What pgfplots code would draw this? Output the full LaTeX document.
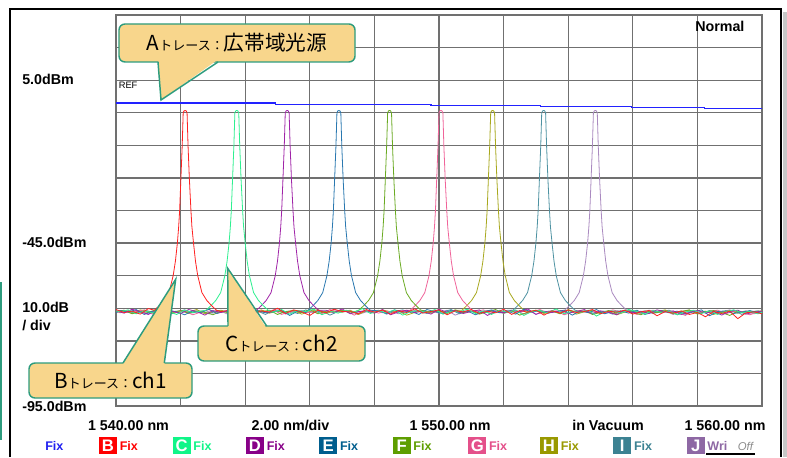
\documentclass[border=0pt]{standalone}
\usepackage{fontspec}
\setmainfont{Liberation Sans}
\newfontfamily\jp{Noto Sans CJK JP}
\usepackage{pgfplots}
\pgfplotsset{compat=1.18}
\definecolor{gridc}{HTML}{707070}
\definecolor{cA}{HTML}{2222FF}
\definecolor{cB}{HTML}{FF2222}
\definecolor{cC}{HTML}{2EF090}
\definecolor{cD}{HTML}{A024A8}
\definecolor{cE}{HTML}{2A78B0}
\definecolor{cF}{HTML}{6AAA22}
\definecolor{cG}{HTML}{F0649A}
\definecolor{cH}{HTML}{A8A81E}
\definecolor{cI}{HTML}{4E92A2}
\definecolor{cJ}{HTML}{AA8AC0}
\definecolor{lA}{HTML}{2020F0}
\definecolor{lB}{HTML}{FF0000}
\definecolor{lC}{HTML}{10F588}
\definecolor{lD}{HTML}{880088}
\definecolor{lE}{HTML}{005E8E}
\definecolor{lF}{HTML}{5E9E00}
\definecolor{lG}{HTML}{E4508A}
\definecolor{lH}{HTML}{999900}
\definecolor{lI}{HTML}{3C8292}
\definecolor{lJ}{HTML}{8E68A4}
\definecolor{cfill}{HTML}{F8D68C}
\definecolor{cedge}{HTML}{2E9C7E}
\newcommand\lab{\fontsize{10.7}{12}\selectfont\bfseries}
\newcommand\bigf{\fontsize{15.5}{18}\selectfont}
\newcommand\smlf{\fontsize{9.75}{12}\selectfont}
\begin{document}
\begin{tikzpicture}
\begin{scope}[x=0.75pt,y=0.75pt]
\useasboundingbox (0,0) rectangle (787,457);
\fill[white] (0,0) rectangle (787,457);
\fill[black!22] (783,0) rectangle (787,445);
\draw[black, line width=1.5pt] (9.5,0) -- (9.5,448) -- (781,448) -- (781,0);
\draw[cedge, line width=1.2pt] (1,175) -- (1,17);
\end{scope}
\begin{axis}[at={(87pt,38.25pt)}, anchor=south west, scale only axis,
  width=484.5pt, height=293.25pt,
  xmin=1540, xmax=1560, ymin=-95, ymax=25,
  xtick={1540,1542,1544,1546,1548,1550,1552,1554,1556,1558,1560},
  ytick={-95,-85,-75,-65,-55,-45,-35,-25,-15,-5,5,15,25},
  xticklabels={}, yticklabels={}, major tick length=0pt,
  grid=major, grid style={gridc, line width=1pt},
  axis line style={gridc, line width=1pt}]
% J
\addplot[cJ, line width=0.6pt] table[row sep=\\] {
1540.00 -66.1\\ 1540.25 -65.6\\ 1540.50 -66.4\\ 1540.75 -65.9\\ 1541.00 -66.7\\ 1541.25 -66.0\\ 1541.50 -65.5\\ 1541.75 -66.3\\ 1542.00 -65.8\\ 1542.25 -66.6\\ 1542.50 -66.1\\ 1542.75 -65.7\\ 1543.00 -66.5\\ 1543.25 -65.9\\ 1543.50 -67.0\\ 1543.75 -66.2\\ 1544.00 -65.6\\ 1544.25 -66.4\\ 1544.50 -65.8\\ 1544.75 -66.1\\ 1545.00 -65.5\\ 1545.25 -66.8\\ 1545.50 -66.0\\ 1545.75 -65.7\\ 1546.00 -66.3\\ 1546.25 -65.9\\ 1546.50 -66.6\\ 1546.75 -65.4\\ 1547.00 -66.2\\ 1547.25 -65.8\\ 1547.50 -66.9\\ 1547.75 -66.1\\ 1548.00 -65.6\\ 1548.25 -66.4\\ 1548.50 -65.9\\ 1548.75 -66.7\\ 1549.00 -66.0\\ 1549.25 -65.7\\ 1549.50 -66.3\\ 1549.75 -65.8\\ 1550.00 -66.5\\ 1550.25 -65.6\\ 1550.50 -67.1\\ 1550.75 -66.2\\ 1551.00 -65.9\\ 1551.25 -66.4\\ 1551.50 -65.7\\ 1551.75 -66.0\\ 1552.00 -66.6\\ 1552.25 -65.8\\ 1552.50 -66.3\\ 1552.75 -65.5\\ 1553.00 -66.8\\ 1553.25 -66.1\\ 1553.50 -65.7\\ 1553.75 -66.2\\
1553.89 -65.6\\ 1554.04 -64.2\\ 1554.19 -62.6\\ 1554.34 -60.2\\ 1554.47 -55\\ 1554.54 -50.5\\ 1554.60 -45\\ 1554.64 -40\\ 1554.67 -35\\ 1554.71 -25\\ 1554.75 -15\\ 1554.78 -5\\ 1554.81 -4.4\\ 1554.84 -4.3\\ 1554.87 -4.4\\ 1554.90 -5\\ 1554.93 -15\\ 1554.97 -25\\ 1555.02 -35\\ 1555.05 -40\\ 1555.10 -45\\ 1555.16 -50.5\\ 1555.23 -55\\ 1555.36 -60.2\\ 1555.51 -62.6\\ 1555.66 -64.2\\ 1555.81 -65.6\\
1556.00 -65.9\\ 1556.25 -66.5\\ 1556.50 -65.6\\ 1556.75 -66.2\\ 1557.00 -65.8\\ 1557.25 -66.9\\ 1557.50 -66.0\\ 1557.75 -65.7\\ 1558.00 -66.4\\ 1558.25 -65.9\\ 1558.50 -66.6\\ 1558.75 -66.1\\ 1559.00 -65.5\\ 1559.25 -66.3\\ 1559.50 -65.8\\ 1559.75 -66.7\\ 1560.00 -66.0\\
};
% I
\addplot[cI, line width=0.6pt] table[row sep=\\] {
1540.00 -65.7\\ 1540.125 -66.3\\ 1540.375 -65.9\\ 1540.625 -66.6\\ 1540.875 -65.6\\ 1541.125 -66.1\\ 1541.375 -65.8\\ 1541.625 -67.0\\ 1541.875 -66.2\\ 1542.125 -65.5\\ 1542.375 -66.4\\ 1542.625 -65.9\\ 1542.875 -66.7\\ 1543.125 -65.7\\ 1543.375 -66.0\\ 1543.625 -65.4\\ 1543.875 -66.5\\ 1544.125 -66.1\\ 1544.375 -65.8\\ 1544.625 -66.9\\ 1544.875 -65.6\\ 1545.125 -66.2\\ 1545.375 -65.9\\ 1545.625 -66.6\\ 1545.875 -65.5\\ 1546.125 -66.3\\ 1546.375 -65.8\\ 1546.625 -67.1\\ 1546.875 -66.0\\ 1547.125 -65.7\\ 1547.375 -66.4\\ 1547.625 -65.9\\ 1547.875 -66.2\\ 1548.125 -65.6\\ 1548.375 -66.8\\ 1548.625 -66.0\\ 1548.875 -65.5\\ 1549.125 -66.3\\ 1549.375 -65.8\\ 1549.625 -66.6\\ 1549.875 -65.9\\ 1550.125 -66.1\\ 1550.375 -65.4\\ 1550.625 -66.7\\ 1550.875 -66.0\\ 1551.125 -65.7\\ 1551.375 -66.5\\ 1551.625 -65.9\\ 1551.875 -66.2\\ 1552.125 -65.6\\
1552.29 -65.6\\ 1552.44 -64.2\\ 1552.59 -62.6\\ 1552.74 -60.2\\ 1552.87 -55\\ 1552.94 -50.5\\ 1553.00 -45\\ 1553.04 -40\\ 1553.07 -35\\ 1553.11 -25\\ 1553.15 -15\\ 1553.18 -5\\ 1553.21 -4.4\\ 1553.24 -4.3\\ 1553.27 -4.4\\ 1553.30 -5\\ 1553.33 -15\\ 1553.37 -25\\ 1553.42 -35\\ 1553.45 -40\\ 1553.50 -45\\ 1553.56 -50.5\\ 1553.63 -55\\ 1553.76 -60.2\\ 1553.91 -62.6\\ 1554.06 -64.2\\ 1554.21 -65.6\\
1554.375 -66.0\\ 1554.625 -65.7\\ 1554.875 -66.4\\ 1555.125 -65.9\\ 1555.375 -66.8\\ 1555.625 -66.1\\ 1555.875 -65.5\\ 1556.125 -66.3\\ 1556.375 -65.8\\ 1556.625 -66.6\\ 1556.875 -66.0\\ 1557.125 -65.6\\ 1557.375 -67.0\\ 1557.625 -66.2\\ 1557.875 -65.9\\ 1558.125 -66.5\\ 1558.375 -65.7\\ 1558.625 -66.3\\ 1558.875 -66.0\\ 1559.125 -65.6\\ 1559.375 -66.9\\ 1559.625 -66.1\\ 1559.875 -65.8\\ 1560.00 -66.3\\
};
% H
\addplot[cH, line width=0.6pt] table[row sep=\\] {
1540.00 -66.2\\ 1540.25 -65.8\\ 1540.50 -66.6\\ 1540.75 -65.5\\ 1541.00 -66.0\\ 1541.25 -66.9\\ 1541.50 -65.7\\ 1541.75 -66.4\\ 1542.00 -65.9\\ 1542.25 -66.1\\ 1542.50 -65.4\\ 1542.75 -66.7\\ 1543.00 -66.0\\ 1543.25 -65.6\\ 1543.50 -66.3\\ 1543.75 -65.8\\ 1544.00 -67.0\\ 1544.25 -66.2\\ 1544.50 -65.5\\ 1544.75 -66.5\\ 1545.00 -65.9\\ 1545.25 -66.3\\ 1545.50 -65.7\\ 1545.75 -66.8\\ 1546.00 -66.0\\ 1546.25 -65.4\\ 1546.50 -66.6\\ 1546.75 -65.9\\ 1547.00 -66.2\\ 1547.25 -65.6\\ 1547.50 -66.9\\ 1547.75 -65.8\\ 1548.00 -66.4\\ 1548.25 -65.5\\ 1548.50 -66.1\\ 1548.75 -65.9\\ 1549.00 -67.1\\ 1549.25 -66.3\\ 1549.50 -65.7\\ 1549.75 -66.5\\ 1550.00 -65.8\\ 1550.25 -66.2\\ 1550.50 -65.6\\
1550.71 -65.6\\ 1550.86 -64.2\\ 1551.01 -62.6\\ 1551.16 -60.2\\ 1551.29 -55\\ 1551.36 -50.5\\ 1551.42 -45\\ 1551.46 -40\\ 1551.49 -35\\ 1551.53 -25\\ 1551.57 -15\\ 1551.60 -5\\ 1551.63 -4.4\\ 1551.66 -4.3\\ 1551.69 -4.4\\ 1551.72 -5\\ 1551.75 -15\\ 1551.79 -25\\ 1551.84 -35\\ 1551.87 -40\\ 1551.92 -45\\ 1551.98 -50.5\\ 1552.05 -55\\ 1552.18 -60.2\\ 1552.33 -62.6\\ 1552.48 -64.2\\ 1552.63 -65.6\\
1552.75 -66.0\\ 1553.00 -65.7\\ 1553.25 -66.6\\ 1553.50 -65.9\\ 1553.75 -66.3\\ 1554.00 -65.5\\ 1554.25 -66.8\\ 1554.50 -66.1\\ 1554.75 -65.6\\ 1555.00 -66.4\\ 1555.25 -65.9\\ 1555.50 -67.0\\ 1555.75 -66.2\\ 1556.00 -65.7\\ 1556.25 -66.5\\ 1556.50 -65.8\\ 1556.75 -66.1\\ 1557.00 -65.5\\ 1557.25 -66.7\\ 1557.50 -66.0\\ 1557.75 -65.6\\ 1558.00 -66.4\\ 1558.25 -65.9\\ 1558.50 -66.9\\ 1558.75 -66.2\\ 1559.00 -65.7\\ 1559.25 -66.5\\ 1559.50 -65.9\\ 1559.75 -66.3\\ 1560.00 -66.0\\
};
% G
\addplot[cG, line width=0.6pt] table[row sep=\\] {
1540.00 -65.9\\ 1540.125 -66.4\\ 1540.375 -65.7\\ 1540.625 -66.1\\ 1540.875 -65.5\\ 1541.125 -66.8\\ 1541.375 -66.0\\ 1541.625 -65.6\\ 1541.875 -66.3\\ 1542.125 -65.8\\ 1542.375 -67.0\\ 1542.625 -66.2\\ 1542.875 -65.4\\ 1543.125 -66.5\\ 1543.375 -65.9\\ 1543.625 -66.1\\ 1543.875 -65.6\\ 1544.125 -66.7\\ 1544.375 -65.8\\ 1544.625 -66.3\\ 1544.875 -65.5\\ 1545.125 -66.9\\ 1545.375 -66.0\\ 1545.625 -65.7\\ 1545.875 -66.4\\ 1546.125 -65.9\\ 1546.375 -66.6\\ 1546.625 -65.4\\ 1546.875 -66.2\\ 1547.125 -65.8\\ 1547.375 -67.1\\ 1547.625 -66.0\\ 1547.875 -65.6\\ 1548.125 -66.5\\ 1548.375 -65.9\\ 1548.625 -66.2\\ 1548.875 -65.7\\
1549.11 -65.6\\ 1549.26 -64.2\\ 1549.41 -62.6\\ 1549.56 -60.2\\ 1549.69 -55\\ 1549.76 -50.5\\ 1549.82 -45\\ 1549.86 -40\\ 1549.89 -35\\ 1549.93 -25\\ 1549.97 -15\\ 1550.00 -5\\ 1550.03 -4.4\\ 1550.06 -4.3\\ 1550.09 -4.4\\ 1550.12 -5\\ 1550.15 -15\\ 1550.19 -25\\ 1550.24 -35\\ 1550.27 -40\\ 1550.32 -45\\ 1550.38 -50.5\\ 1550.45 -55\\ 1550.58 -60.2\\ 1550.73 -62.6\\ 1550.88 -64.2\\ 1551.03 -65.6\\
1551.125 -66.0\\ 1551.375 -65.5\\ 1551.625 -66.7\\ 1551.875 -65.9\\ 1552.125 -66.3\\ 1552.375 -65.6\\ 1552.625 -66.8\\ 1552.875 -66.1\\ 1553.125 -65.4\\ 1553.375 -66.5\\ 1553.625 -65.8\\ 1553.875 -67.0\\ 1554.125 -66.2\\ 1554.375 -65.7\\ 1554.625 -66.4\\ 1554.875 -65.9\\ 1555.125 -66.6\\ 1555.375 -65.5\\ 1555.625 -66.1\\ 1555.875 -65.8\\ 1556.125 -66.9\\ 1556.375 -66.3\\ 1556.625 -65.6\\ 1556.875 -66.5\\ 1557.125 -65.9\\ 1557.375 -66.2\\ 1557.625 -67.2\\ 1557.875 -65.7\\ 1558.125 -66.4\\ 1558.375 -66.0\\ 1558.625 -65.6\\ 1558.875 -66.7\\ 1559.125 -65.9\\ 1559.375 -66.3\\ 1559.625 -67.0\\ 1559.875 -66.1\\ 1560.00 -65.8\\
};
% F
\addplot[cF, line width=0.6pt] table[row sep=\\] {
1540.00 -66.0\\ 1540.25 -65.6\\ 1540.50 -66.7\\ 1540.75 -65.9\\ 1541.00 -66.3\\ 1541.25 -65.4\\ 1541.50 -66.8\\ 1541.75 -66.1\\ 1542.00 -65.7\\ 1542.25 -66.5\\ 1542.50 -65.8\\ 1542.75 -66.2\\ 1543.00 -67.0\\ 1543.25 -65.9\\ 1543.50 -66.4\\ 1543.75 -65.5\\ 1544.00 -66.6\\ 1544.25 -65.8\\ 1544.50 -66.1\\ 1544.75 -65.6\\ 1545.00 -66.9\\ 1545.25 -66.0\\ 1545.50 -65.7\\ 1545.75 -66.3\\ 1546.00 -65.4\\ 1546.25 -66.7\\ 1546.50 -65.9\\ 1546.75 -66.2\\ 1547.00 -65.6\\ 1547.25 -66.5\\
1547.52 -65.6\\ 1547.67 -64.2\\ 1547.82 -62.6\\ 1547.97 -60.2\\ 1548.10 -55\\ 1548.17 -50.5\\ 1548.23 -45\\ 1548.27 -40\\ 1548.30 -35\\ 1548.34 -25\\ 1548.38 -15\\ 1548.41 -5\\ 1548.44 -4.4\\ 1548.47 -4.3\\ 1548.50 -4.4\\ 1548.53 -5\\ 1548.56 -15\\ 1548.60 -25\\ 1548.65 -35\\ 1548.68 -40\\ 1548.73 -45\\ 1548.79 -50.5\\ 1548.86 -55\\ 1548.99 -60.2\\ 1549.14 -62.6\\ 1549.29 -64.2\\ 1549.44 -65.6\\
1549.75 -66.1\\ 1550.00 -65.7\\ 1550.25 -66.6\\ 1550.50 -65.5\\ 1550.75 -66.3\\ 1551.00 -65.9\\ 1551.25 -66.8\\ 1551.50 -66.0\\ 1551.75 -65.4\\ 1552.00 -66.5\\ 1552.25 -65.8\\ 1552.50 -67.1\\ 1552.75 -66.2\\ 1553.00 -65.6\\ 1553.25 -66.4\\ 1553.50 -65.9\\ 1553.75 -66.7\\ 1554.00 -65.5\\ 1554.25 -66.1\\ 1554.50 -65.8\\ 1554.75 -66.9\\ 1555.00 -66.3\\ 1555.25 -65.7\\ 1555.50 -66.5\\ 1555.75 -65.6\\ 1556.00 -66.2\\ 1556.25 -67.0\\ 1556.50 -65.9\\ 1556.75 -66.4\\ 1557.00 -65.8\\ 1557.25 -66.6\\ 1557.50 -66.0\\ 1557.75 -65.5\\ 1558.00 -66.8\\ 1558.25 -66.1\\ 1558.50 -65.7\\ 1558.75 -66.3\\ 1559.00 -67.2\\ 1559.25 -65.9\\ 1559.50 -66.5\\ 1559.75 -66.0\\ 1560.00 -65.8\\
};
% E
\addplot[cE, line width=0.6pt] table[row sep=\\] {
1540.00 -66.4\\ 1540.125 -65.7\\ 1540.375 -66.2\\ 1540.625 -65.4\\ 1540.875 -66.9\\ 1541.125 -65.9\\ 1541.375 -66.5\\ 1541.625 -65.6\\ 1541.875 -66.1\\ 1542.125 -67.0\\ 1542.375 -65.8\\ 1542.625 -66.3\\ 1542.875 -65.3\\ 1543.125 -66.6\\ 1543.375 -65.9\\ 1543.625 -66.0\\ 1543.875 -65.5\\ 1544.125 -66.8\\ 1544.375 -65.7\\ 1544.625 -66.4\\ 1544.875 -66.1\\ 1545.125 -65.6\\ 1545.375 -67.2\\ 1545.625 -65.9\\ 1545.875 -66.3\\
1545.95 -65.6\\ 1546.10 -64.2\\ 1546.25 -62.6\\ 1546.40 -60.2\\ 1546.53 -55\\ 1546.60 -50.5\\ 1546.66 -45\\ 1546.70 -40\\ 1546.73 -35\\ 1546.77 -25\\ 1546.81 -15\\ 1546.84 -5\\ 1546.87 -4.4\\ 1546.90 -4.3\\ 1546.93 -4.4\\ 1546.96 -5\\ 1546.99 -15\\ 1547.03 -25\\ 1547.08 -35\\ 1547.11 -40\\ 1547.16 -45\\ 1547.22 -50.5\\ 1547.29 -55\\ 1547.42 -60.2\\ 1547.57 -62.6\\ 1547.72 -64.2\\ 1547.87 -65.6\\
1548.125 -65.8\\ 1548.375 -66.6\\ 1548.625 -65.5\\ 1548.875 -66.2\\ 1549.125 -65.9\\ 1549.375 -66.9\\ 1549.625 -65.4\\ 1549.875 -66.0\\ 1550.125 -66.7\\ 1550.375 -65.6\\ 1550.625 -66.3\\ 1550.875 -65.8\\ 1551.125 -67.0\\ 1551.375 -66.1\\ 1551.625 -65.5\\ 1551.875 -66.4\\ 1552.125 -65.9\\ 1552.375 -66.8\\ 1552.625 -65.3\\ 1552.875 -66.2\\ 1553.125 -65.7\\ 1553.375 -66.5\\ 1553.625 -66.0\\ 1553.875 -65.6\\ 1554.125 -67.1\\ 1554.375 -65.9\\ 1554.625 -66.3\\ 1554.875 -65.4\\ 1555.125 -66.7\\ 1555.375 -66.0\\ 1555.625 -65.8\\ 1555.875 -66.5\\ 1556.125 -65.6\\ 1556.375 -66.9\\ 1556.625 -66.2\\ 1556.875 -65.7\\ 1557.125 -66.4\\ 1557.375 -65.9\\ 1557.625 -66.8\\ 1557.875 -66.1\\ 1558.125 -65.5\\ 1558.375 -67.3\\ 1558.625 -66.0\\ 1558.875 -65.8\\ 1559.125 -66.6\\ 1559.375 -66.2\\ 1559.625 -65.7\\ 1559.875 -66.4\\ 1560.00 -66.0\\
};
% D
\addplot[cD, line width=0.6pt] table[row sep=\\] {
1540.00 -65.8\\ 1540.25 -66.5\\ 1540.50 -65.3\\ 1540.75 -66.1\\ 1541.00 -66.9\\ 1541.25 -65.6\\ 1541.50 -66.2\\ 1541.75 -65.9\\ 1542.00 -66.6\\ 1542.25 -65.4\\ 1542.50 -66.0\\ 1542.75 -67.1\\ 1543.00 -65.7\\ 1543.25 -66.3\\ 1543.50 -65.5\\ 1543.75 -66.8\\ 1544.00 -65.9\\ 1544.25 -66.2\\
1544.35 -65.6\\ 1544.50 -64.2\\ 1544.65 -62.6\\ 1544.80 -60.2\\ 1544.93 -55\\ 1545.00 -50.5\\ 1545.06 -45\\ 1545.10 -40\\ 1545.13 -35\\ 1545.17 -25\\ 1545.21 -15\\ 1545.24 -5\\ 1545.27 -4.4\\ 1545.30 -4.3\\ 1545.33 -4.4\\ 1545.36 -5\\ 1545.39 -15\\ 1545.43 -25\\ 1545.48 -35\\ 1545.51 -40\\ 1545.56 -45\\ 1545.62 -50.5\\ 1545.69 -55\\ 1545.82 -60.2\\ 1545.97 -62.6\\ 1546.12 -64.2\\ 1546.27 -65.6\\
1546.50 -65.6\\ 1546.75 -66.4\\ 1547.00 -65.2\\ 1547.25 -66.7\\ 1547.50 -66.0\\ 1547.75 -65.8\\ 1548.00 -66.5\\ 1548.25 -65.4\\ 1548.50 -67.0\\ 1548.75 -66.1\\ 1549.00 -65.6\\ 1549.25 -66.3\\ 1549.50 -65.9\\ 1549.75 -66.8\\ 1550.00 -65.3\\ 1550.25 -66.2\\ 1550.50 -65.7\\ 1550.75 -66.6\\ 1551.00 -66.0\\ 1551.25 -65.5\\ 1551.50 -67.2\\ 1551.75 -65.8\\ 1552.00 -66.4\\ 1552.25 -65.6\\ 1552.50 -66.1\\ 1552.75 -65.2\\ 1553.00 -66.9\\ 1553.25 -65.9\\ 1553.50 -66.3\\ 1553.75 -65.7\\ 1554.00 -66.5\\ 1554.25 -66.0\\ 1554.50 -65.4\\ 1554.75 -66.7\\ 1555.00 -65.8\\ 1555.25 -66.2\\ 1555.50 -67.0\\ 1555.75 -65.6\\ 1556.00 -66.4\\ 1556.25 -65.9\\ 1556.50 -66.6\\ 1556.75 -65.5\\ 1557.00 -66.1\\ 1557.25 -65.8\\ 1557.50 -66.9\\ 1557.75 -66.3\\ 1558.00 -65.7\\ 1558.25 -66.5\\ 1558.50 -65.9\\ 1558.75 -67.1\\ 1559.00 -66.0\\ 1559.25 -65.6\\ 1559.50 -66.8\\ 1559.75 -66.2\\ 1560.00 -65.9\\
};
% C
\addplot[cC, line width=0.6pt] table[row sep=\\] {
1540.00 -65.8\\ 1540.125 -66.1\\ 1540.375 -65.5\\ 1540.625 -66.7\\ 1540.875 -65.8\\ 1541.125 -66.4\\ 1541.375 -65.2\\ 1541.625 -66.0\\ 1541.875 -66.9\\ 1542.125 -65.6\\ 1542.375 -66.3\\ 1542.625 -65.9\\
1542.79 -65.6\\ 1542.94 -64.2\\ 1543.09 -62.6\\ 1543.24 -60.2\\ 1543.37 -55\\ 1543.44 -50.5\\ 1543.50 -45\\ 1543.54 -40\\ 1543.57 -35\\ 1543.61 -25\\ 1543.65 -15\\ 1543.68 -5\\ 1543.71 -4.4\\ 1543.74 -4.3\\ 1543.77 -4.4\\ 1543.80 -5\\ 1543.83 -15\\ 1543.87 -25\\ 1543.92 -35\\ 1543.95 -40\\ 1544.00 -45\\ 1544.06 -50.5\\ 1544.13 -55\\ 1544.26 -60.2\\ 1544.41 -62.6\\ 1544.56 -64.2\\ 1544.71 -65.6\\
1544.875 -66.2\\ 1545.125 -65.4\\ 1545.375 -66.8\\ 1545.625 -65.7\\ 1545.875 -66.0\\ 1546.125 -65.3\\ 1546.375 -67.0\\ 1546.625 -65.9\\ 1546.875 -66.5\\ 1547.125 -65.6\\ 1547.375 -66.2\\ 1547.625 -65.1\\ 1547.875 -66.6\\ 1548.125 -65.8\\ 1548.375 -66.4\\ 1548.625 -65.5\\ 1548.875 -67.1\\ 1549.125 -66.0\\ 1549.375 -65.7\\ 1549.625 -66.3\\ 1549.875 -65.4\\ 1550.125 -66.8\\ 1550.375 -65.9\\ 1550.625 -66.1\\ 1550.875 -65.3\\ 1551.125 -66.6\\ 1551.375 -65.8\\ 1551.625 -66.9\\ 1551.875 -65.6\\ 1552.125 -66.2\\ 1552.375 -65.5\\ 1552.625 -67.2\\ 1552.875 -66.0\\ 1553.125 -65.7\\ 1553.375 -66.4\\ 1553.625 -65.2\\ 1553.875 -66.7\\ 1554.125 -65.9\\ 1554.375 -66.3\\ 1554.625 -65.6\\ 1554.875 -67.4\\ 1555.125 -66.1\\ 1555.375 -65.8\\ 1555.625 -66.5\\ 1555.875 -65.4\\ 1556.125 -66.0\\ 1556.375 -66.8\\ 1556.625 -65.7\\ 1556.875 -66.3\\ 1557.125 -65.9\\ 1557.375 -67.0\\ 1557.625 -66.2\\ 1557.875 -65.6\\ 1558.125 -66.6\\ 1558.375 -65.8\\ 1558.625 -66.9\\ 1558.875 -66.1\\ 1559.125 -65.5\\ 1559.375 -66.4\\ 1559.625 -66.0\\ 1559.875 -66.7\\ 1560.00 -66.2\\
};
% B
\addplot[cB, line width=0.6pt] table[row sep=\\] {
1540.00 -65.4\\ 1540.25 -66.3\\ 1540.50 -65.9\\ 1540.75 -66.8\\ 1541.00 -65.1\\
1541.19 -65.6\\ 1541.34 -64.2\\ 1541.49 -62.6\\ 1541.64 -60.2\\ 1541.77 -55\\ 1541.84 -50.5\\ 1541.90 -45\\ 1541.94 -40\\ 1541.97 -35\\ 1542.01 -25\\ 1542.05 -15\\ 1542.08 -5\\ 1542.11 -4.4\\ 1542.14 -4.3\\ 1542.17 -4.4\\ 1542.20 -5\\ 1542.23 -15\\ 1542.27 -25\\ 1542.32 -35\\ 1542.35 -40\\ 1542.40 -45\\ 1542.46 -50.5\\ 1542.53 -55\\ 1542.66 -60.2\\ 1542.81 -62.6\\ 1542.96 -64.2\\ 1543.11 -65.6\\
1543.25 -66.0\\ 1543.50 -65.7\\ 1543.75 -66.5\\ 1544.00 -65.2\\ 1544.25 -66.9\\ 1544.50 -65.8\\ 1544.75 -66.2\\ 1545.00 -65.0\\ 1545.25 -66.6\\ 1545.50 -65.5\\ 1545.75 -66.1\\ 1546.00 -67.2\\ 1546.25 -65.6\\ 1546.50 -66.4\\ 1546.75 -65.3\\ 1547.00 -66.0\\ 1547.25 -65.9\\ 1547.50 -66.7\\ 1547.75 -65.4\\ 1548.00 -66.2\\ 1548.25 -65.6\\ 1548.50 -66.8\\ 1548.75 -65.7\\ 1549.00 -66.3\\ 1549.25 -65.2\\ 1549.50 -66.5\\ 1549.75 -66.0\\ 1550.00 -65.5\\ 1550.25 -67.0\\ 1550.50 -65.8\\ 1550.75 -66.1\\ 1551.00 -65.4\\ 1551.25 -66.6\\ 1551.50 -65.9\\ 1551.75 -66.4\\ 1552.00 -65.3\\ 1552.25 -66.9\\ 1552.50 -65.7\\ 1552.75 -66.2\\ 1553.00 -65.6\\ 1553.25 -67.1\\ 1553.50 -65.8\\ 1553.75 -66.5\\ 1554.00 -65.5\\ 1554.25 -66.3\\ 1554.50 -66.0\\ 1554.75 -65.4\\ 1555.00 -66.7\\ 1555.25 -65.9\\ 1555.50 -66.2\\ 1555.75 -65.6\\ 1556.00 -66.8\\ 1556.25 -66.1\\ 1556.50 -65.7\\ 1556.75 -67.3\\ 1557.00 -66.0\\ 1557.25 -66.5\\ 1557.50 -65.8\\ 1557.75 -66.9\\ 1558.00 -66.3\\ 1558.25 -67.6\\ 1558.50 -66.0\\ 1558.75 -66.6\\ 1559.00 -65.9\\ 1559.25 -68.2\\ 1559.50 -66.4\\ 1559.75 -66.1\\ 1560.00 -66.7\\
};
% A
\addplot[cA, line width=0.9pt, const plot] coordinates {(1540,-2.0) (1544.95,-2.4) (1549.75,-2.7) (1553.13,-3.1) (1555.97,-3.4) (1558.23,-3.8) (1560,-3.8)};
\end{axis}
\begin{scope}[x=0.75pt,y=0.75pt]
% labels
\node[anchor=west, inner sep=0, font=\lab] at (695,430.8) {Normal};
\node[anchor=west, inner sep=0, font=\fontsize{7}{8}\selectfont] at (118.5,371.5) {REF};
\node[anchor=west, inner sep=0, font=\lab] at (22,377.3) {5.0dBm};
\node[anchor=west, inner sep=0, font=\lab] at (22,214.2) {-45.0dBm};
\node[anchor=west, inner sep=0, font=\lab] at (22,149.5) {10.0dB};
\node[anchor=west, inner sep=0, font=\lab] at (22,131.2) {/ div};
\node[anchor=west, inner sep=0, font=\lab] at (22,50.8) {-95.0dBm};
\node[inner sep=0, font=\lab] at (128.5,31.2) {1 540.00 nm};
\node[inner sep=0, font=\lab] at (290.5,31.2) {2.00 nm/div};
\node[inner sep=0, font=\lab] at (450,31.2) {1 550.00 nm};
\node[inner sep=0, font=\lab] at (608,31.2) {in Vacuum};
\node[inner sep=0, font=\lab] at (725,31.2) {1 560.00 nm};
% legend row
\tikzset{lbox/.style={minimum width=13.5pt, minimum height=12.75pt, inner sep=0, text=white, font=\fontsize{12.5}{13}\selectfont\bfseries},
 lfix/.style={anchor=west, inner sep=0, font=\fontsize{9.4}{10}\selectfont\bfseries}}
\node[lfix, text=lA] at (45,11.5) {Fix};
\node[lbox, fill=lB] at (108,11.5) {B}; \node[lfix, text=lB] at (119.5,11.5) {Fix};
\node[lbox, fill=lC] at (181.7,11.5) {C}; \node[lfix, text=lC] at (193.2,11.5) {Fix};
\node[lbox, fill=lD] at (255,11.5) {D}; \node[lfix, text=lD] at (266.5,11.5) {Fix};
\node[lbox, fill=lE] at (328.3,11.5) {E}; \node[lfix, text=lE] at (339.8,11.5) {Fix};
\node[lbox, fill=lF] at (401.7,11.5) {F}; \node[lfix, text=lF] at (413.2,11.5) {Fix};
\node[lbox, fill=lG] at (477.3,11.5) {G}; \node[lfix, text=lG] at (488.8,11.5) {Fix};
\node[lbox, fill=lH] at (549,11.5) {H}; \node[lfix, text=lH] at (560.5,11.5) {Fix};
\node[lbox, fill=lI] at (622.3,11.5) {I}; \node[lfix, text=lI] at (633.8,11.5) {Fix};
\node[lbox, fill=lJ] at (695.7,11.5) {J}; \node[lfix, text=lJ] at (707.2,11.5) {Wri};
\node[anchor=west, inner sep=0, text=black!45, font=\fontsize{8.5}{10}\selectfont\itshape] at (737.5,11) {Off};
\draw[black, line width=0.9pt] (706,3) -- (755,3);
% callouts
\tikzset{cbox/.style={draw=cedge, fill=cfill, line width=1.1pt, rounded corners=4.5pt}}
\draw[cbox] (119,395) rectangle (355,433);
\fill[cfill] (158.2,397.5) -- (161,357) -- (218,397.5) -- cycle;
\draw[cedge, line width=1.1pt] (158,395) -- (161,357) -- (218,395);
\node[inner sep=0, font=\jp] at (237,414) {\bigf A\smlf トレース：\bigf 広帯域光源};
\draw[cbox] (29,59) rectangle (192,94);
\fill[cfill] (122,91.5) -- (175.7,177.7) -- (164.3,91.5) -- cycle;
\draw[cedge, line width=1.1pt] (123,94) -- (175.7,177.7) -- (164.3,94);
\node[inner sep=0, font=\jp] at (110.5,76.5) {\bigf B\smlf トレース：\bigf ch1};
\draw[cbox] (198,96) rectangle (365,131);
\fill[cfill] (228,128.5) -- (227.7,188.7) -- (266.7,128.5) -- cycle;
\draw[cedge, line width=1.1pt] (228,131) -- (227.7,188.7) -- (266.7,131);
\node[inner sep=0, font=\jp] at (281.5,113.5) {\bigf C\smlf トレース：\bigf ch2};
\end{scope}
\end{tikzpicture}
\end{document}
